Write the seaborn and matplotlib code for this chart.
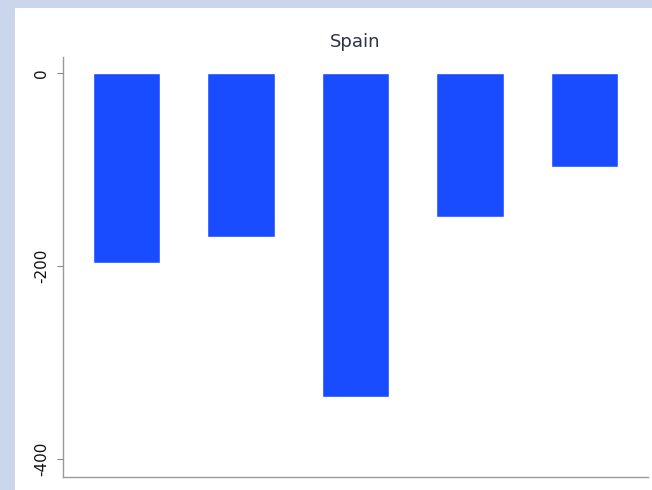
import pandas as pd
import numpy as np
import seaborn as sns
import matplotlib.pyplot as plt
from matplotlib.patches import Rectangle

categories = ["A", "B", "C", "D", "E"]
values = [-197, -170, -336, -149, -97]

df = pd.DataFrame({"cat": categories, "value": values})

sns.set_style("white")
fig = plt.figure(figsize=(6.52, 4.9), dpi=100, facecolor="#cbd6ec")
# white panel behind the plot
fig.patches.append(Rectangle((15 / 652, 0), 1, 1 - 8 / 490, transform=fig.transFigure,
                             facecolor="white", edgecolor="none", zorder=-10))
ax = fig.add_axes([63 / 652, 13 / 490, 585 / 652, 420 / 490])
ax.set_facecolor("white")
ax.set_zorder(5)

sns.barplot(df, x="cat", y="value", color="#1a4cff", saturation=1, width=0.59, ax=ax)

ax.set_xlim(-0.555, 4.555)
ax.set_ylim(-419, 17)
ax.set_yticks([0, -200, -400])
ax.set_yticklabels(["0", "-200", "-400"], rotation=90, va="center", fontsize=11, color="#111111")
ax.set_xticks([])
ax.set_xlabel("")
ax.set_ylabel("")
ax.tick_params(axis="y", length=4, color="#888888", width=0.8, pad=6, left=True)
for s in ["top", "right"]:
    ax.spines[s].set_visible(False)
for s in ["left", "bottom"]:
    ax.spines[s].set_color("#999999")
    ax.spines[s].set_linewidth(1)
fig.text(355 / 652, 1 - 42 / 490, "Spain", ha="center", va="center", fontsize=13, color="#2f3347")

fig.savefig("out.png", dpi=100, facecolor=fig.get_facecolor())
